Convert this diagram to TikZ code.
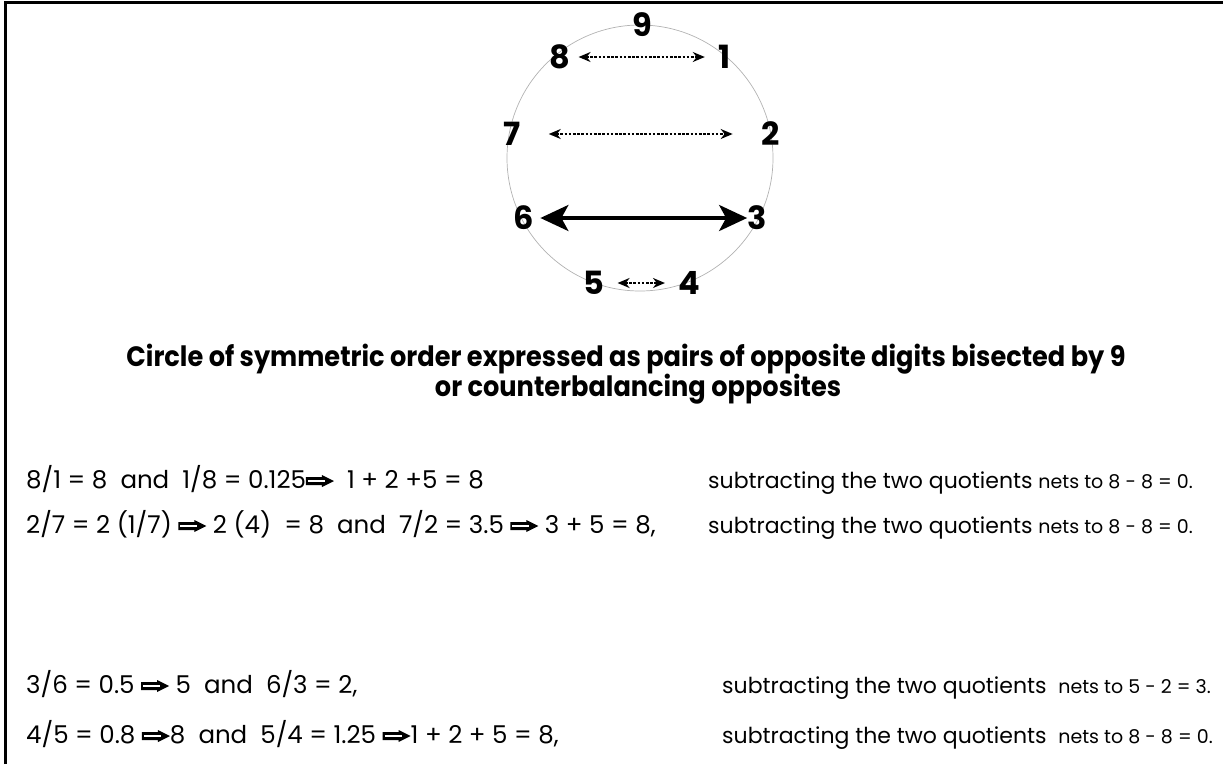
\documentclass[tikz,border=0pt]{standalone}
\usepackage{fontspec}
\setmainfont{Poppins}
\usepackage{graphicx}
\usetikzlibrary{arrows.meta}
\newcommand{\fatarr}{\tikz[baseline=-1pt,x=1pt,y=1pt]{\fill[black] (0,2)--(16,2)--(16,0)--(28,6)--(16,12)--(16,10)--(0,10)--cycle; \draw[white,line width=1.1pt] (2,6)--(19,6);}}
\begin{document}
\begin{tikzpicture}[x=1pt,y=-1pt,
  dig/.style={font=\fontsize{32}{32}\selectfont\bfseries, inner sep=0pt},
  dasharr/.style={line width=1.8pt, dash pattern=on 2.6pt off 1.6pt, {Stealth[length=12pt,width=10pt]}-{Stealth[length=12pt,width=10pt]}},
  thickarr/.style={line width=3.5pt, {Stealth[length=28pt,width=26pt,inset=7pt]}-{Stealth[length=28pt,width=26pt,inset=7pt]}},
  titletxt/.style={font=\fontsize{28}{28}\selectfont\bfseries, anchor=base, inner sep=0pt},
  body/.style={font=\fontsize{24.5}{24.5}\selectfont, anchor=base west, inner sep=0pt},
  rbody/.style={font=\fontsize{22}{22}\selectfont, anchor=base west, inner sep=0pt},
]
\useasboundingbox (0,0) rectangle (1223,764);
\draw[line width=3pt] (5.5,764) -- (5.5,2.5) -- (1223,2.5);
\draw[black!30, line width=0.7pt] (640,158) circle[radius=133];

\node[dig] (n9) at (642,25) {9};
\node[dig] (n8) at (560,57) {8};
\node[dig] (n1) at (725,57) {1};
\node[dig] (n7) at (512,134) {7};
\node[dig] (n2) at (771,134) {2};
\node[dig] (n6) at (524,218) {6};
\node[dig] (n3) at (757,218) {3};
\node[dig] (n5) at (594,283) {5};
\node[dig] (n4) at (689,283) {4};

\draw[dasharr] ([xshift=8pt]n8.east) -- ([xshift=-14pt]n1.west);
\draw[dasharr] ([xshift=28pt]n7.east) -- ([xshift=-29pt]n2.west);
\draw[thickarr] ([xshift=6pt]n6.east) -- (n3.west);
\draw[dasharr] ([xshift=13pt]n5.east) -- ([xshift=-13pt]n4.west);

\node[titletxt] (t1) at (626,366) {\scalebox{0.915}[1]{Circle of symmetric order expressed as pairs of opposite digits bisected by 9}};
\node[titletxt] (t2) at (638,396) {\scalebox{0.915}[1]{or counterbalancing opposites}};

\node[body] (l1) at (26,488) {8/1 = 8\ \ and\ \ 1/8 = 0.125\fatarr\ \ 1 + 2 +5 = 8};
\node[body] (l2) at (26,533) {2/7 = 2 (1/7) \fatarr\ 2 (4)\ \ = 8\ \ and\ \ 7/2 = 3.5 \fatarr\ 3 + 5 = 8,};
\node[body] (l3) at (26,693) {3/6 = 0.5 \fatarr\ 5\ \ and\ \ 6/3 = 2,};
\node[body] (l4) at (26,743) {4/5 = 0.8 \fatarr 8\ \ and\ \ 5/4 = 1.25 \fatarr1 + 2 + 5 = 8,};

\node[rbody] (r1) at (708,488) {subtracting the two quotients {\fontsize{19}{19}\selectfont nets to 8 - 8 = 0.}};
\node[rbody] (r2) at (708,533) {subtracting the two quotients {\fontsize{19}{19}\selectfont nets to 8 - 8 = 0.}};
\node[rbody] (r3) at (722,693) {subtracting the two quotients\ \ {\fontsize{19}{19}\selectfont nets to 5 - 2 = 3.}};
\node[rbody] (r4) at (722,743) {subtracting the two quotients\ \ {\fontsize{19}{19}\selectfont nets to 8 - 8 = 0.}};
\end{tikzpicture}
\end{document}
